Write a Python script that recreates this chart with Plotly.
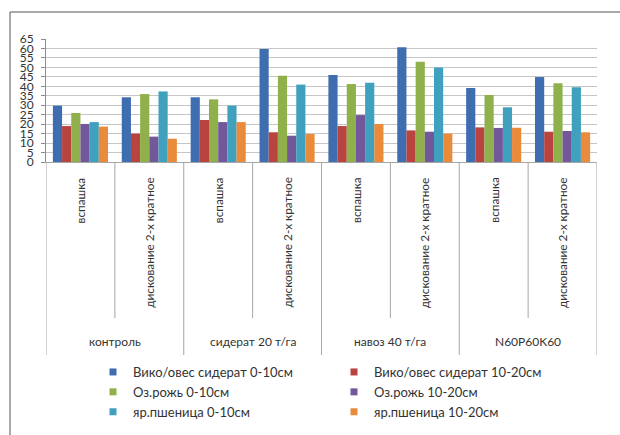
import plotly.graph_objects as go

# Soil treatment groups and tillage methods
groups = ["контроль", "сидерат 20 т/га", "навоз 40 т/га", "N60P60K60"]
tillage = ["вспашка", "дискование 2-х кратное"]

series_names = [
    "Вико/овес сидерат 0-10см",
    "Вико/овес сидерат 10-20см",
    "Оз.рожь 0-10см",
    "Оз.рожь 10-20см",
    "яр.пшеница 0-10см",
    "яр.пшеница 10-20см",
]

# One value per (group, tillage) pair, in group order
vika_0_10 = [29.8, 34.2, 34.2, 59.7, 46.0, 60.6, 39.1, 44.9]
vika_10_20 = [19.0, 15.0, 22.2, 15.7, 19.0, 16.7, 18.3, 16.0]
rozh_0_10 = [25.9, 35.9, 33.1, 45.6, 41.2, 53.0, 35.4, 41.6]
rozh_10_20 = [20.1, 13.4, 21.1, 13.9, 24.8, 16.0, 18.0, 16.4]
pshen_0_10 = [21.1, 37.3, 29.8, 40.9, 41.9, 49.9, 28.9, 39.5]
pshen_10_20 = [18.7, 12.3, 21.1, 14.8, 20.1, 15.0, 18.1, 15.7]

y_ticks = list(range(0, 70, 5))

series_values = [vika_0_10, vika_10_20, rozh_0_10, rozh_10_20, pshen_0_10, pshen_10_20]
colors = ["#3E6DB0", "#B8433F", "#8FB04A", "#72579A", "#3FA1BE", "#EA8A3B"]

FONT = "Lato, 'Open Sans', sans-serif"
W, H = 620, 435
ML, MR, MT, MB = 46, 23, 39, 273
PW, PH = W - ML - MR, H - MT - MB


def pyp(p):
    """pixel row -> paper y"""
    return (H - MB - p) / PH


def pxp(p):
    """pixel column -> paper x"""
    return (p - ML) / PW


n_cat = len(groups) * len(tillage)
cat_x = list(range(n_cat))
cat_labels = [t for _ in groups for t in tillage]

fig = go.Figure()
for name, vals, col in zip(series_names, series_values, colors):
    fig.add_trace(go.Bar(x=cat_x, y=vals, name=name, marker=dict(color=col, line=dict(width=0)),
                         showlegend=False))
# small square legend keys
for name, col in zip(series_names, colors):
    fig.add_trace(go.Scatter(x=[None], y=[None], mode="markers", name=name,
                             marker=dict(symbol="square", size=7, color=col)))

annotations = []
for i, lab in enumerate(cat_labels):
    annotations.append(dict(x=i, y=pyp(175), xref="x", yref="paper", text=lab, textangle=-90,
                            showarrow=False, xanchor="center", yanchor="top",
                            font=dict(family=FONT, size=11.8, color="#333")))
for k, g in enumerate(groups):
    annotations.append(dict(x=2 * k + 0.5, y=pyp(341), xref="x", yref="paper", text=g,
                            showarrow=False, xanchor="center", yanchor="middle",
                            font=dict(family=FONT, size=12, color="#333")))

shapes = []
div_col = "#a6a6a6"
for k in range(len(groups)):
    shapes.append(dict(type="line", xref="x", yref="paper", x0=2 * k + 0.5, x1=2 * k + 0.5,
                       y0=0, y1=pyp(318), line=dict(color=div_col, width=1)))
for k in range(len(groups) + 1):
    xb = 2 * k - 0.5
    shapes.append(dict(type="line", xref="x", yref="paper", x0=xb, x1=xb,
                       y0=0, y1=pyp(355), line=dict(color=div_col, width=1)))
# outer chart frame
shapes.append(dict(type="line", xref="paper", yref="paper", x0=pxp(10), x1=pxp(622),
                   y0=pyp(12), y1=pyp(12), line=dict(color="#8c8c8c", width=1.5)))
shapes.append(dict(type="line", xref="paper", yref="paper", x0=pxp(10), x1=pxp(10),
                   y0=pyp(12), y1=pyp(437), line=dict(color="#8c8c8c", width=1.5)))

fig.update_layout(
    width=W, height=H,
    margin=dict(l=ML, r=MR, t=MT, b=MB, autoexpand=False),
    paper_bgcolor="white", plot_bgcolor="white",
    barmode="group", bargap=0.2, bargroupgap=0,
    font=dict(family=FONT, size=12, color="#333"),
    xaxis=dict(range=[-0.5, n_cat - 0.5], showticklabels=False, showgrid=False, zeroline=False,
               showline=True, linecolor=div_col, linewidth=1, ticks=""),
    yaxis=dict(range=[0, 65], tickvals=y_ticks, showgrid=True, gridcolor="#c6c6c6", gridwidth=1.3,
               zeroline=False, showline=True, linecolor="#8c8c8c", linewidth=1,
               ticks="outside", ticklen=4, tickcolor="#8c8c8c", ticklabelstandoff=5,
               tickfont=dict(family=FONT, size=12, color="#333")),
    legend=dict(orientation="h", xref="container", yref="container",
                x=93 / W, xanchor="left", y=1 - 357 / H, yanchor="top",
                entrywidth=196, entrywidthmode="pixels", font=dict(family=FONT, size=13, color="#333"),
                itemwidth=30, tracegroupgap=0, bgcolor="rgba(0,0,0,0)"),
    annotations=annotations,
    shapes=shapes,
)

fig.write_html("out.html")
